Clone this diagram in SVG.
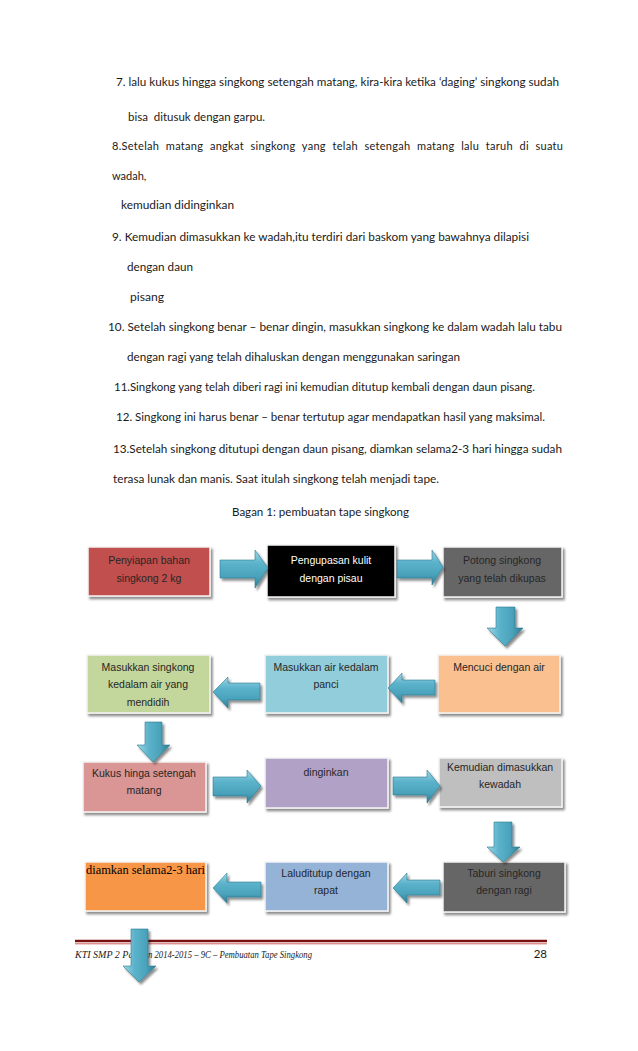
<svg xmlns="http://www.w3.org/2000/svg" width="638" height="1051" viewBox="0 0 638 1051">
<defs>
<style>
.t{font-family:Lato,"Liberation Sans",sans-serif;font-size:11px;fill:#1a1a1a}
.b{font-family:"Liberation Sans",Arial,sans-serif;font-size:10.5px;fill:#262626;text-anchor:middle}
.w{fill:#ffffff}
.box{stroke:#f4f4f4;stroke-width:1.5;filter:url(#sh)}
.ah{fill:url(#gh);stroke:#2c7a90;stroke-width:0.6}
.av{fill:url(#gv);stroke:#2c7a90;stroke-width:0.6}
</style>
<filter id="sh" x="-10%" y="-10%" width="125%" height="135%">
<feDropShadow dx="2" dy="2.5" stdDeviation="1" flood-color="#000" flood-opacity="0.45"/>
</filter>
<linearGradient id="gh" x1="0" y1="0" x2="0" y2="1">
<stop offset="0" stop-color="#9fd6e6"/>
<stop offset="0.35" stop-color="#5bb3cb"/>
<stop offset="0.7" stop-color="#4aa2bb"/>
<stop offset="1" stop-color="#2f7e95"/>
</linearGradient>
<linearGradient id="gv" x1="0" y1="0" x2="1" y2="0">
<stop offset="0" stop-color="#9fd6e6"/>
<stop offset="0.35" stop-color="#5bb3cb"/>
<stop offset="0.7" stop-color="#4aa2bb"/>
<stop offset="1" stop-color="#2f7e95"/>
</linearGradient>
</defs>
<rect width="638" height="1051" fill="#ffffff"/>

<g id="body-text">
<text class="t" x="116" y="86" textLength="443" lengthAdjust="spacingAndGlyphs">7. lalu kukus hingga singkong setengah matang, kira-kira ketika ‘daging’ singkong sudah</text>
<text class="t" x="128" y="121" textLength="137" lengthAdjust="spacingAndGlyphs" style="white-space:pre">bisa  ditusuk dengan garpu.</text>
<text class="t" x="112" y="150" word-spacing="3.5" textLength="451" lengthAdjust="spacing">8.Setelah matang angkat singkong yang telah setengah matang lalu taruh di suatu</text>
<text class="t" x="112" y="180">wadah,</text>
<text class="t" x="121" y="209" textLength="113" lengthAdjust="spacingAndGlyphs">kemudian didinginkan</text>
<text class="t" x="112" y="241" textLength="417" lengthAdjust="spacingAndGlyphs">9. Kemudian dimasukkan ke wadah,itu terdiri dari baskom yang bawahnya dilapisi</text>
<text class="t" x="127" y="271" textLength="66" lengthAdjust="spacingAndGlyphs">dengan daun</text>
<text class="t" x="130" y="301" textLength="34" lengthAdjust="spacingAndGlyphs">pisang</text>
<text class="t" x="108" y="331" textLength="454" lengthAdjust="spacingAndGlyphs">10. Setelah singkong benar – benar dingin, masukkan singkong ke dalam wadah lalu tabu</text>
<text class="t" x="127" y="361" textLength="333" lengthAdjust="spacingAndGlyphs">dengan ragi yang telah dihaluskan dengan menggunakan saringan</text>
<text class="t" x="114" y="391" textLength="421" lengthAdjust="spacingAndGlyphs">11.Singkong yang telah diberi ragi ini kemudian ditutup kembali dengan daun pisang.</text>
<text class="t" x="116" y="421" textLength="429" lengthAdjust="spacingAndGlyphs">12. Singkong ini harus benar – benar tertutup agar mendapatkan hasil yang maksimal.</text>
<text class="t" x="113" y="453" textLength="449" lengthAdjust="spacingAndGlyphs">13.Setelah singkong ditutupi dengan daun pisang, diamkan selama2-3 hari hingga sudah</text>
<text class="t" x="113" y="483" textLength="326" lengthAdjust="spacingAndGlyphs">terasa lunak dan manis. Saat itulah singkong telah menjadi tape.</text>
<text class="t" x="232" y="516" textLength="177" lengthAdjust="spacingAndGlyphs">Bagan 1: pembuatan tape singkong</text>
</g>

<g id="n1">
<rect class="box" x="88" y="547" width="122" height="49" fill="#c0504d"/>
<text class="b" x="149" y="564">Penyiapan bahan</text>
<text class="b" x="149" y="582">singkong 2 kg</text>
</g>
<g id="n2">
<rect class="box" x="267" y="545" width="128" height="52" fill="#000000" stroke="#e6e6e6"/>
<text class="b w" x="331" y="564">Pengupasan kulit</text>
<text class="b w" x="331" y="582">dengan pisau</text>
</g>
<g id="n3">
<rect class="box" x="443" y="547" width="119" height="50" fill="#666666"/>
<text class="b" x="502" y="564" fill="#111">Potong singkong</text>
<text class="b" x="502" y="582" fill="#111">yang telah dikupas</text>
</g>
<g id="n4">
<rect class="box" x="87" y="655" width="123" height="58" fill="#c3d69b"/>
<text class="b" x="148" y="671">Masukkan singkong</text>
<text class="b" x="148" y="688">kedalam air yang</text>
<text class="b" x="148" y="706">mendidih</text>
</g>
<g id="n5">
<rect class="box" x="265" y="655" width="123" height="58" fill="#92cddc"/>
<text class="b" x="326" y="671">Masukkan air kedalam</text>
<text class="b" x="326" y="688">panci</text>
</g>
<g id="n6">
<rect class="box" x="438" y="655" width="122" height="58" fill="#fac090"/>
<text class="b" x="499" y="671">Mencuci dengan air</text>
</g>
<g id="n7">
<rect class="box" x="83" y="762" width="123" height="50" fill="#d99694"/>
<text class="b" x="144" y="777">Kukus hinga setengah</text>
<text class="b" x="144" y="794">matang</text>
</g>
<g id="n8">
<rect class="box" x="265" y="758" width="123" height="50" fill="#b2a1c7"/>
<text class="b" x="326" y="776">dinginkan</text>
</g>
<g id="n9">
<rect class="box" x="439" y="758" width="123" height="49" fill="#bfbfbf"/>
<text class="b" x="500" y="771">Kemudian dimasukkan</text>
<text class="b" x="500" y="788">kewadah</text>
</g>
<g id="n10">
<rect class="box" x="85" y="862" width="121" height="49" fill="#f79646"/>
<text x="86" y="874" font-family="'Liberation Serif','Times New Roman',serif" font-size="13" fill="#000" textLength="119" lengthAdjust="spacingAndGlyphs">diamkan selama2-3 hari</text>
</g>
<g id="n11">
<rect class="box" x="265" y="862" width="123" height="49" fill="#95b3d7"/>
<text class="b" x="326" y="877">Laluditutup dengan</text>
<text class="b" x="326" y="894">rapat</text>
</g>
<g id="n12">
<rect class="box" x="443" y="862" width="122" height="50" fill="#666666"/>
<text class="b" x="504" y="877" fill="#111">Taburi singkong</text>
<text class="b" x="504" y="894" fill="#111">dengan ragi</text>
</g>

<g id="footer">
<line x1="75" y1="941" x2="547" y2="941" stroke="#7a1010" stroke-width="2.6"/>
<line x1="75" y1="943.8" x2="547" y2="943.8" stroke="#d0605c" stroke-width="1"/>
<text x="75" y="958" font-family="'Liberation Serif',serif" font-style="italic" font-size="10" fill="#1a1a1a">KTI SMP 2 Pa</text>
<text x="148" y="958" font-family="'Liberation Serif',serif" font-style="italic" font-size="10" fill="#1a1a1a" textLength="164" lengthAdjust="spacingAndGlyphs">n 2014-2015 – 9C – Pembuatan Tape Singkong</text>
<text x="547" y="958" font-family="Lato,'Liberation Sans',sans-serif" font-size="11.5" fill="#1a1a1a" text-anchor="end">28</text>
</g>

<g id="connectors" filter="url(#sh)">
<path class="ah" d="M220,560 H255 V550 L268,568 L255,588 V578 H220 Z"/>
<path class="ah" d="M397,560 H432 V550 L443,567 L432,585 V578 H397 Z"/>
<path class="av" d="M496,607 H515 V628 H523 L505,646 L487,628 H496 Z"/>
<path class="ah" d="M260,683 H228 V677 L213,692 L228,708 V700 H260 Z"/>
<path class="ah" d="M435,680 H402 V673 L388,688 L402,703 V695 H435 Z"/>
<path class="av" d="M145,722 H162 V745 H170 L153,762 L137,745 H145 Z"/>
<path class="ah" d="M213,777 H247 V770 L261,786 L247,803 V796 H213 Z"/>
<path class="ah" d="M393,777 H427 V770 L440,786 L427,803 V795 H393 Z"/>
<path class="av" d="M494,822 H512 V847 H520 L503,862 L487,847 H494 Z"/>
<path class="ah" d="M261,882 H227 V873 L213,888 L227,903 V897 H261 Z"/>
<path class="ah" d="M440,880 H407 V873 L393,888 L407,903 V895 H440 Z"/>
<path class="av" d="M131,929 H148 V966 H156 L139,982 L123,966 H131 Z"/>
</g>
</svg>
